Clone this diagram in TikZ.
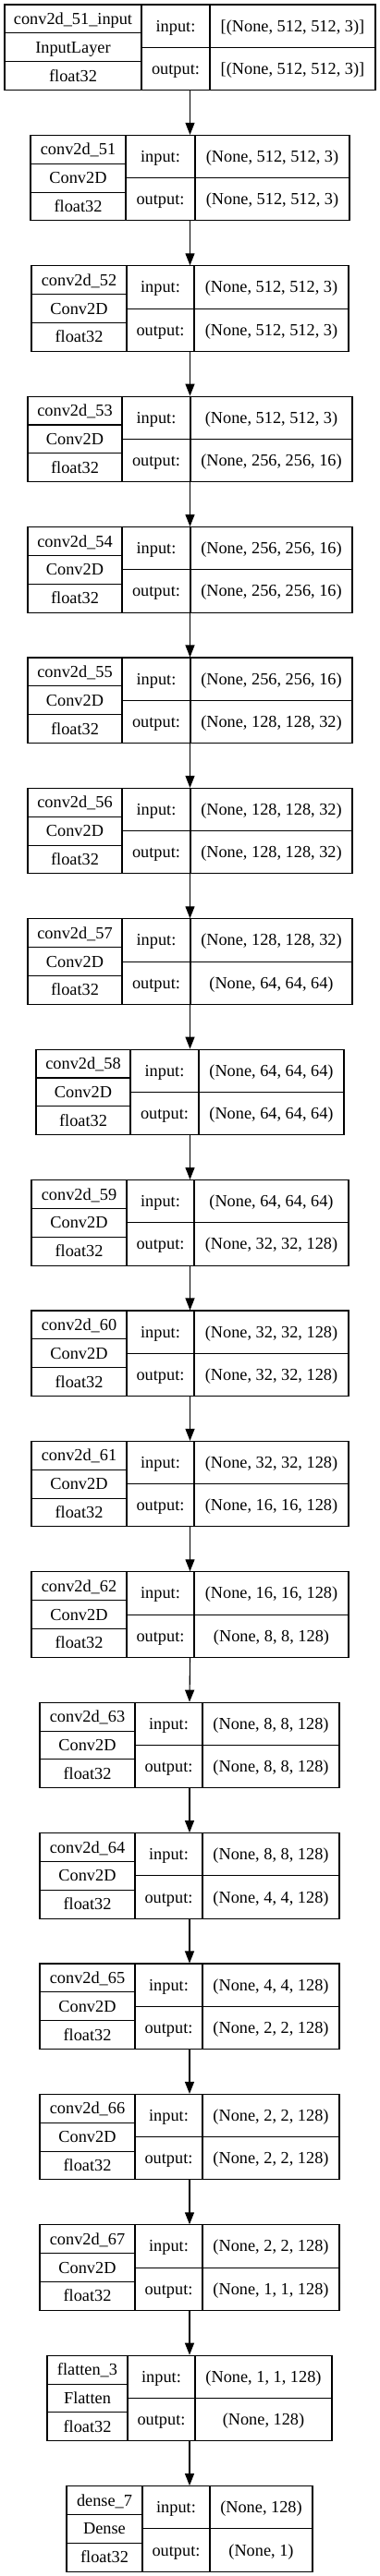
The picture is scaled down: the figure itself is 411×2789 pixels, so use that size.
\documentclass[tikz,border=0pt]{standalone}
\usepackage{fontspec}
\setmainfont{Liberation Serif}
\usetikzlibrary{arrows.meta}
\tikzset{
  x=1pt, y=1pt,
  box/.style={draw, line width=1.1pt, inner sep=0pt, minimum height=92.5pt},
  rule/.style={line width=1.1pt},
  lbl/.style={inner sep=0pt, anchor=base, font=\fontsize{18.3pt}{22pt}\selectfont},
  flow/.style={line width=1.1pt, -{Triangle[length=13pt,width=10pt]}}
}
\def\parsegeom#1/#2/#3/#4\relax{\def\gxa{#1}\def\gxb{#2}\def\gda{#3}\def\gdb{#4}}
\newcommand\layer[7]{%
  \expandafter\parsegeom#3\relax
  \pgfmathsetmacro\ytop{-(5+#2*141.4)}%
  \pgfmathsetmacro\ybot{\ytop-92.5}%
  \pgfmathsetmacro\ymid{\ytop-46.25}%
  \pgfmathsetmacro\rowA{\ytop-92.5/3}%
  \pgfmathsetmacro\rowB{\ytop-2*92.5/3}%
  \pgfmathsetmacro\xc{(\gxa+\gxb)/2}%
  \pgfmathsetmacro\bxw{\gxb-\gxa}%
  \pgfmathsetmacro\colL{(\gxa+\gda)/2}%
  \pgfmathsetmacro\colM{(\gda+\gdb)/2}%
  \pgfmathsetmacro\colR{(\gdb+\gxb)/2}%
  \node[box, minimum width=\bxw pt] (#1) at (\xc,\ymid) {};
  \draw[rule] (\gxa,\rowA) -- (\gda,\rowA) (\gxa,\rowB) -- (\gda,\rowB)
    (\gda,\ytop) -- (\gda,\ybot) (\gdb,\ytop) -- (\gdb,\ybot)
    (\gda,\ymid) -- (\gxb,\ymid);
  \node[lbl] (#1-name) at (\colL,{(\ytop+\rowA)/2-6}) {#4};
  \node[lbl] (#1-type) at (\colL,{(\rowA+\rowB)/2-6}) {#5};
  \node[lbl] (#1-dtype) at (\colL,{(\rowB+\ybot)/2-6}) {float32};
  \node[lbl] (#1-inl) at (\colM,{(\ytop+\ymid)/2-6}) {input:};
  \node[lbl] (#1-in) at (\colR,{(\ytop+\ymid)/2-6}) {#6};
  \node[lbl] (#1-outl) at (\colM,{(\ymid+\ybot)/2-6}) {output:};
  \node[lbl] (#1-out) at (\colR,{(\ymid+\ybot)/2-6}) {#7};
}
\def\GA{5/406/153/227}
\def\GB{33/378/136/211}
\def\GC{34/377/137/210}
\def\GD{30/381/132/206}
\def\GE{39/372/141/215}
\def\GF{43/367/146/219}
\def\GG{51/359/138/211}
\def\GH{72/338/154/227}
\begin{document}
\begin{tikzpicture}
\useasboundingbox[fill=white] (0,0) rectangle (411,-2789);
\layer{L0}{0}{\GA}{conv2d\_51\_input}{InputLayer}{[(None, 512, 512, 3)]}{[(None, 512, 512, 3)]}
\layer{L1}{1}{\GB}{conv2d\_51}{Conv2D}{(None, 512, 512, 3)}{(None, 512, 512, 3)}
\layer{L2}{2}{\GC}{conv2d\_52}{Conv2D}{(None, 512, 512, 3)}{(None, 512, 512, 3)}
\layer{L3}{3}{\GD}{conv2d\_53}{Conv2D}{(None, 512, 512, 3)}{(None, 256, 256, 16)}
\layer{L4}{4}{\GD}{conv2d\_54}{Conv2D}{(None, 256, 256, 16)}{(None, 256, 256, 16)}
\layer{L5}{5}{\GD}{conv2d\_55}{Conv2D}{(None, 256, 256, 16)}{(None, 128, 128, 32)}
\layer{L6}{6}{\GD}{conv2d\_56}{Conv2D}{(None, 128, 128, 32)}{(None, 128, 128, 32)}
\layer{L7}{7}{\GD}{conv2d\_57}{Conv2D}{(None, 128, 128, 32)}{(None, 64, 64, 64)}
\layer{L8}{8}{\GE}{conv2d\_58}{Conv2D}{(None, 64, 64, 64)}{(None, 64, 64, 64)}
\layer{L9}{9}{\GC}{conv2d\_59}{Conv2D}{(None, 64, 64, 64)}{(None, 32, 32, 128)}
\layer{L10}{10}{\GC}{conv2d\_60}{Conv2D}{(None, 32, 32, 128)}{(None, 32, 32, 128)}
\layer{L11}{11}{\GC}{conv2d\_61}{Conv2D}{(None, 32, 32, 128)}{(None, 16, 16, 128)}
\layer{L12}{12}{\GC}{conv2d\_62}{Conv2D}{(None, 16, 16, 128)}{(None, 8, 8, 128)}
\layer{L13}{13}{\GF}{conv2d\_63}{Conv2D}{(None, 8, 8, 128)}{(None, 8, 8, 128)}
\layer{L14}{14}{\GF}{conv2d\_64}{Conv2D}{(None, 8, 8, 128)}{(None, 4, 4, 128)}
\layer{L15}{15}{\GF}{conv2d\_65}{Conv2D}{(None, 4, 4, 128)}{(None, 2, 2, 128)}
\layer{L16}{16}{\GF}{conv2d\_66}{Conv2D}{(None, 2, 2, 128)}{(None, 2, 2, 128)}
\layer{L17}{17}{\GF}{conv2d\_67}{Conv2D}{(None, 2, 2, 128)}{(None, 1, 1, 128)}
\layer{L18}{18}{\GG}{flatten\_3}{Flatten}{(None, 1, 1, 128)}{(None, 128)}
\layer{L19}{19}{\GH}{dense\_7}{Dense}{(None, 128)}{(None, 1)}
\foreach \a/\b in {L0/L1,L1/L2,L2/L3,L3/L4,L4/L5,L5/L6,L6/L7,L7/L8,L8/L9,L9/L10,L10/L11,L11/L12,L12/L13,L13/L14,L14/L15,L15/L16,L16/L17,L17/L18,L18/L19}
  \draw[flow] (\a.south) -- (\b.north);
\end{tikzpicture}
\end{document}
